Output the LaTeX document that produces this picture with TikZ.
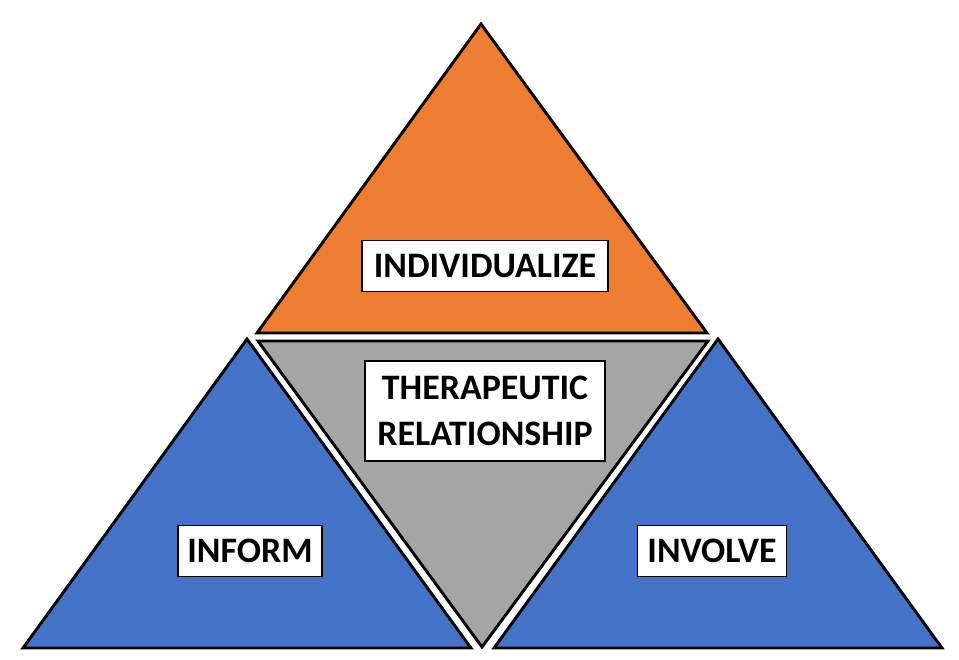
\documentclass[tikz,border=0pt]{standalone}
\usepackage{fontspec}
\setmainfont{Carlito}
\definecolor{orng}{HTML}{ED7D31}
\definecolor{blu}{HTML}{4472C4}
\definecolor{gry}{HTML}{A5A5A5}
\begin{document}
\begin{tikzpicture}[x=1bp,y=-1bp,
  tri/.style={draw=black,line width=2.9bp,line join=miter},
  lbl/.style={draw=black,fill=white,line width=1.3bp,font=\bfseries\fontsize{36}{44}\selectfont,align=center,inner xsep=6bp,inner ysep=4bp}]
\useasboundingbox (0,0) rectangle (959,660);
\fill[tri,fill=orng] (481,24) -- (707,333) -- (257,333) -- cycle;
\fill[tri,fill=gry] (258,341) -- (708,341) -- (482,647) -- cycle;
\fill[tri,fill=blu] (247,339) -- (471,648) -- (23,648) -- cycle;
\fill[tri,fill=blu] (718,339) -- (942,648) -- (494,648) -- cycle;
\node[lbl,minimum width=246bp,minimum height=51bp] (ind) at (485,266) {INDIVIDUALIZE};
\node[lbl,minimum width=240bp,minimum height=100bp] (ther) at (485,411) {THERAPEUTIC\\[2bp]RELATIONSHIP};
\node[lbl,minimum width=144bp,minimum height=51bp] (inf) at (250,551) {INFORM};
\node[lbl,minimum width=149bp,minimum height=51bp] (inv) at (712,551) {INVOLVE};
\end{tikzpicture}
\end{document}
